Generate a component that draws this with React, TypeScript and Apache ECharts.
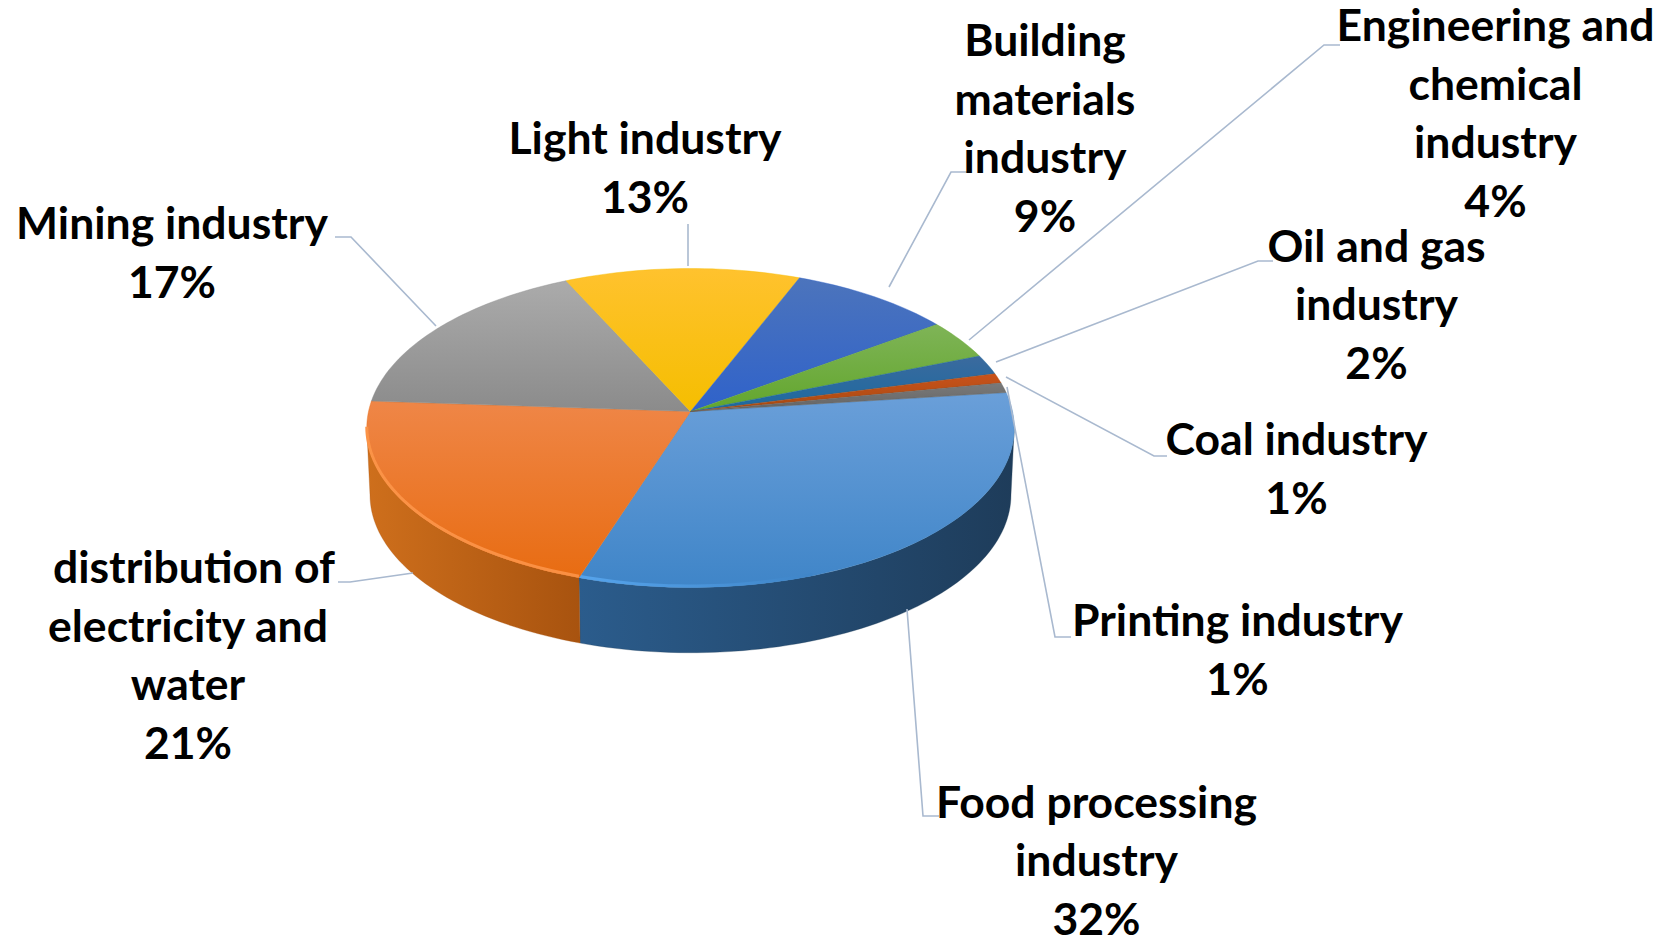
import React, { useEffect, useRef } from "react";
import * as echarts from "echarts";

const sliceNames = [
  ["Food processing", "industry"],
  ["distribution of", "electricity and", "water"],
  ["Mining industry"],
  ["Light industry"],
  ["Building", "materials", "industry"],
  ["Engineering and", "chemical", "industry"],
  ["Oil and gas", "industry"],
  ["Coal industry"],
  ["Printing industry"],
];
const sliceValues = [32, 21, 17, 13, 9, 4, 2, 1, 1];

const topColours = [
  ["#6A9FD9", "#3F85C8"],
  ["#EF8647", "#E86C12"],
  ["#ABABAB", "#8B8B8B"],
  ["#FFC22E", "#F5BE00"],
  ["#4C74BC", "#2F62CA"],
  ["#7FB457", "#62A62C"],
  ["#3B6A9E", "#1B6AA0"],
  ["#C9521B", "#A64A10"],
  ["#7A7A7A", "#636363"],
];
const wallColours: Record<number, string[]> = {
  0: ["#2B5C8C", "#1E3C5A"],
  1: ["#CE6F1C", "#A8530F"],
};
const rimColours: Record<number, string[]> = {
  0: ["#56A4EC", "#3F85C8"],
  1: ["#FB9347", "#FA8F42"],
};

// label placement: [x centre, y centre of the first line]
const labelPlaces = [
  [1096.5, 800],
  [188, 565.5],
  [172, 221.5],
  [645, 136.5],
  [1045, 38.5],
  [1495.5, 23.5],
  [1376.5, 244],
  [1296.5, 437.5],
  [1237.5, 618.5],
];
const LINE_PITCH = 58.7;
const leaderPaths = [
  [[907, 609], [923, 816], [939, 816]],
  [[413, 573], [350, 582], [338, 582]],
  [[436, 326], [351, 237], [335, 237]],
  [[688, 266], [688, 224]],
  [[889, 287], [951, 172], [967, 172]],
  [[969, 340], [1324, 45], [1340, 45]],
  [[996, 362], [1258, 261], [1273, 261]],
  [[1006, 377], [1154, 456], [1167, 456]],
  [[1007, 387], [1055, 637], [1071, 637]],
];

const HUB_X = 690.5;
const HUB_Y = 411.5;
const RX = 322;
const RY = 157.8;
const PERSP = 0.1034;
const START_DEG = 7;
const DEPTH = 67;
const WALL_FROM = -174;
const WALL_TO = -6;

function project(deg: number, lower = false): number[] {
  const a = (deg * Math.PI) / 180;
  const w = 1 + PERSP * Math.sin(a);
  const shrink = lower ? 0.99 : 1;
  return [
    HUB_X + (shrink * RX * Math.cos(a)) / w,
    HUB_Y - (shrink * RY * Math.sin(a)) / w + (lower ? DEPTH : 0),
  ];
}

function arc(from: number, to: number, lower = false): number[][] {
  const n = Math.max(2, Math.ceil(Math.abs(to - from) / 1.5));
  const pts: number[][] = [];
  for (let i = 0; i <= n; i++) pts.push(project(from + ((to - from) * i) / n, lower));
  return pts;
}

const total = sliceValues.reduce((s, v) => s + v, 0);
function sliceSpan(i: number): [number, number] {
  let before = 0;
  for (let k = 0; k < i; k++) before += sliceValues[k];
  const a = START_DEG - (before / total) * 360;
  const b = START_DEG - ((before + sliceValues[i]) / total) * 360;
  return [a, b]; // a > b, clockwise
}

const grad = (x2: number, y2: number, c: string[]) =>
  new echarts.graphic.LinearGradient(0, 0, x2, y2, [
    { offset: 0, color: c[0] },
    { offset: 1, color: c[1] },
  ]);

export default function App() {
  const ref = useRef<HTMLDivElement>(null);
  useEffect(() => {
    document.body.style.margin = "0";
    document.body.style.background = "#fff";
    const chart = echarts.init(ref.current!, null, { renderer: "svg" });
    const font = '700 44.5px Lato, "Open Sans", sans-serif';
    const labelTexts: any[] = [];
    sliceNames.forEach((lines, i) => {
      [...lines, `${sliceValues[i]}%`].forEach((line, k) => {
        labelTexts.push({
          type: "text",
          z: 6,
          silent: true,
          x: labelPlaces[i][0] + (line === "distribution of" ? 6 : 0),
          y: labelPlaces[i][1] + k * LINE_PITCH,
          style: {
            text: line,
            font,
            fill: "#000000",
            align: "center",
            verticalAlign: "middle",
          },
        });
      });
    });
    chart.setOption({
      animation: false,
      backgroundColor: "#ffffff",
      graphic: [
        ...leaderPaths.map((p) => ({
          type: "polyline",
          z: 5,
          silent: true,
          shape: { points: p },
          style: { stroke: "#A9B9CF", lineWidth: 1.6, fill: "none" },
        })),
        ...labelTexts,
      ],
      series: [
        {
          type: "custom",
          coordinateSystem: "none",
          silent: true,
          z: 1,
          data: sliceValues,
          renderItem: (params: any) => {
            const i = params.dataIndex;
            const [a, b] = sliceSpan(i);
            const hi = Math.min(a, WALL_TO);
            const lo = Math.max(b, WALL_FROM);
            if (hi <= lo || !wallColours[i]) return { type: "group", children: [] };
            const pts = [...arc(hi, lo), ...arc(lo, hi, true)];
            const c = wallColours[i];
            return {
              type: "polygon",
              shape: { points: pts },
              style: { fill: grad(1, 0, c), stroke: c[1], lineWidth: 0.3 },
            };
          },
        },
        {
          type: "custom",
          coordinateSystem: "none",
          silent: true,
          z: 2,
          data: sliceValues,
          renderItem: (params: any) => {
            const i = params.dataIndex;
            const [a, b] = sliceSpan(i);
            const c = topColours[i];
            const children: any[] = [
              {
                type: "polygon",
                shape: { points: [[HUB_X, HUB_Y], ...arc(a, b)] },
                style: { fill: grad(0, 1, c), stroke: c[1], lineWidth: 0.4 },
              },
            ];
            if (rimColours[i]) {
              const hi = i === 0 ? Math.max(b, -70) : Math.min(a, WALL_TO);
              const lo = Math.max(b, WALL_FROM);
              children.push({
                type: "polyline",
                shape: { points: arc(hi, lo).map((p) => [p[0], p[1] - 1.5]) },
                style: {
                  fill: "none",
                  lineWidth: 3,
                  stroke: grad(1, 0, [rimColours[i][0], rimColours[i][1]]),
                },
              });
            }
            return { type: "group", children };
          },
        },
      ],
    });
    return () => chart.dispose();
  }, []);
  return (
    <div
      ref={ref}
      style={{ position: "fixed", left: 0, top: 0, width: 1671, height: 936, overflow: "hidden" }}
    />
  );
}
